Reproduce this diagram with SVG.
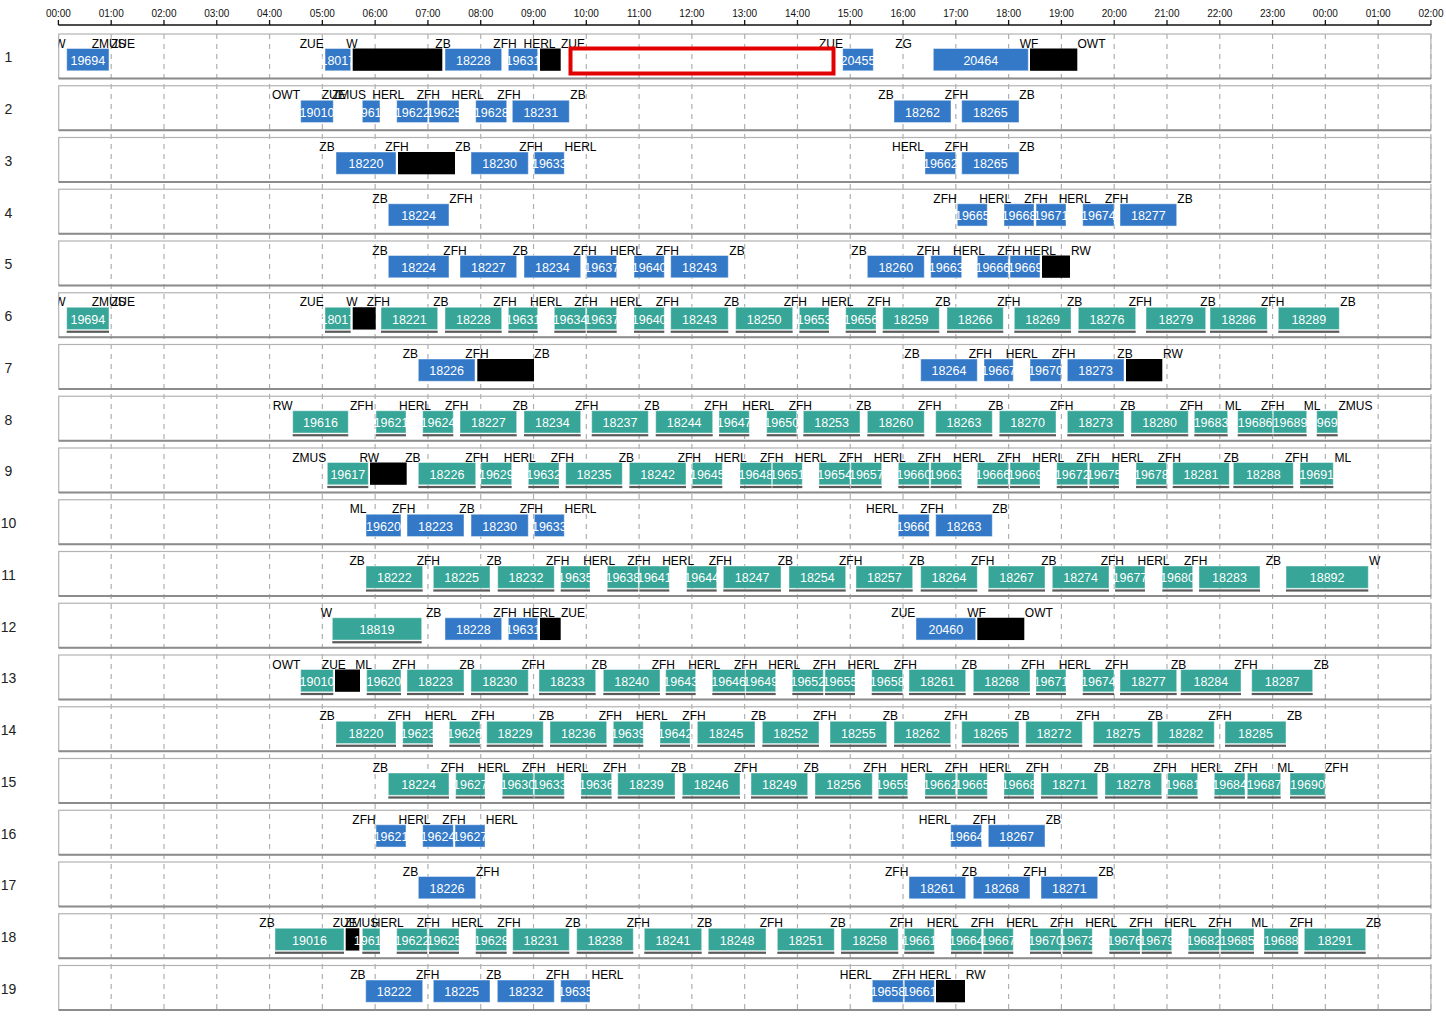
<svg xmlns="http://www.w3.org/2000/svg" width="1446" height="1016" viewBox="0 0 1446 1016">
<defs>
<style>
text{font-family:"Liberation Sans",Arial,sans-serif}
.ax{font-size:10px;fill:#111;text-anchor:middle}
.rn{font-size:14px;fill:#222;text-anchor:middle}
.l{font-size:12px;fill:#000;text-anchor:middle}
svg.b{overflow:visible}
svg.b text{font-size:12.5px;fill:#fff;text-anchor:middle}
.B{fill:#3479c7;stroke:#fff;stroke-opacity:.45;stroke-width:1}
.G{fill:#37a597;stroke:#fff;stroke-opacity:.45;stroke-width:1}
.K{fill:#000}
.u{fill:#5a5a5a}
.fr{fill:none;stroke:#b3b3b3;stroke-width:1.2}
.fb{stroke:#8c8c8c;stroke-width:2}
.gl{stroke:#b0b0b0;stroke-width:1.2;stroke-dasharray:5 5}
.tk{stroke:#111;stroke-width:1.3}
</style>
<clipPath id="cp"><rect x="58.7" y="-40" width="1373" height="130"/></clipPath>
</defs>
<rect width="1446" height="1016" fill="#fff"/>
<g id="grid">
<line class="gl" x1="111.19" y1="34" x2="111.19" y2="1010"/>
<line class="gl" x1="163.98" y1="34" x2="163.98" y2="1010"/>
<line class="gl" x1="216.77" y1="34" x2="216.77" y2="1010"/>
<line class="gl" x1="269.56" y1="34" x2="269.56" y2="1010"/>
<line class="gl" x1="322.35" y1="34" x2="322.35" y2="1010"/>
<line class="gl" x1="375.14" y1="34" x2="375.14" y2="1010"/>
<line class="gl" x1="427.93" y1="34" x2="427.93" y2="1010"/>
<line class="gl" x1="480.72" y1="34" x2="480.72" y2="1010"/>
<line class="gl" x1="533.51" y1="34" x2="533.51" y2="1010"/>
<line class="gl" x1="586.3" y1="34" x2="586.3" y2="1010"/>
<line class="gl" x1="639.09" y1="34" x2="639.09" y2="1010"/>
<line class="gl" x1="691.88" y1="34" x2="691.88" y2="1010"/>
<line class="gl" x1="744.67" y1="34" x2="744.67" y2="1010"/>
<line class="gl" x1="797.46" y1="34" x2="797.46" y2="1010"/>
<line class="gl" x1="850.25" y1="34" x2="850.25" y2="1010"/>
<line class="gl" x1="903.04" y1="34" x2="903.04" y2="1010"/>
<line class="gl" x1="955.83" y1="34" x2="955.83" y2="1010"/>
<line class="gl" x1="1008.62" y1="34" x2="1008.62" y2="1010"/>
<line class="gl" x1="1061.41" y1="34" x2="1061.41" y2="1010"/>
<line class="gl" x1="1114.2" y1="34" x2="1114.2" y2="1010"/>
<line class="gl" x1="1166.99" y1="34" x2="1166.99" y2="1010"/>
<line class="gl" x1="1219.78" y1="34" x2="1219.78" y2="1010"/>
<line class="gl" x1="1272.57" y1="34" x2="1272.57" y2="1010"/>
<line class="gl" x1="1325.36" y1="34" x2="1325.36" y2="1010"/>
<line class="gl" x1="1378.15" y1="34" x2="1378.15" y2="1010"/>
<line class="gl" x1="1430.94" y1="34" x2="1430.94" y2="1010"/>
</g>
<g id="axis">
<line class="tk" x1="58.4" y1="25" x2="1430.94" y2="25"/>
<path class="tk" fill="none" d="M58.4 20V25M111.19 20V25M163.98 20V25M216.77 20V25M269.56 20V25M322.35 20V25M375.14 20V25M427.93 20V25M480.72 20V25M533.51 20V25M586.3 20V25M639.09 20V25M691.88 20V25M744.67 20V25M797.46 20V25M850.25 20V25M903.04 20V25M955.83 20V25M1008.62 20V25M1061.41 20V25M1114.2 20V25M1166.99 20V25M1219.78 20V25M1272.57 20V25M1325.36 20V25M1378.15 20V25M1430.94 20V25"/>
<text class="ax" x="58.4" y="16.7">00:00</text>
<text class="ax" x="111.19" y="16.7">01:00</text>
<text class="ax" x="163.98" y="16.7">02:00</text>
<text class="ax" x="216.77" y="16.7">03:00</text>
<text class="ax" x="269.56" y="16.7">04:00</text>
<text class="ax" x="322.35" y="16.7">05:00</text>
<text class="ax" x="375.14" y="16.7">06:00</text>
<text class="ax" x="427.93" y="16.7">07:00</text>
<text class="ax" x="480.72" y="16.7">08:00</text>
<text class="ax" x="533.51" y="16.7">09:00</text>
<text class="ax" x="586.3" y="16.7">10:00</text>
<text class="ax" x="639.09" y="16.7">11:00</text>
<text class="ax" x="691.88" y="16.7">12:00</text>
<text class="ax" x="744.67" y="16.7">13:00</text>
<text class="ax" x="797.46" y="16.7">14:00</text>
<text class="ax" x="850.25" y="16.7">15:00</text>
<text class="ax" x="903.04" y="16.7">16:00</text>
<text class="ax" x="955.83" y="16.7">17:00</text>
<text class="ax" x="1008.62" y="16.7">18:00</text>
<text class="ax" x="1061.41" y="16.7">19:00</text>
<text class="ax" x="1114.2" y="16.7">20:00</text>
<text class="ax" x="1166.99" y="16.7">21:00</text>
<text class="ax" x="1219.78" y="16.7">22:00</text>
<text class="ax" x="1272.57" y="16.7">23:00</text>
<text class="ax" x="1325.36" y="16.7">00:00</text>
<text class="ax" x="1378.15" y="16.7">01:00</text>
<text class="ax" x="1430.94" y="16.7">02:00</text>
</g>
<g id="connectors"/>

<g id="row-1" transform="translate(0,34)">
<rect class="fr" x="58.7" y="0" width="1372.2" height="44.5"/><line class="fb" x1="58.7" y1="44.5" x2="1430.9" y2="44.5"/>
<text class="rn" x="8.5" y="28.3">1</text>
<g clip-path="url(#cp)">
<svg class="b" x="66.7" y="14.5" width="42.3" height="22.3"><rect class="B" width="100%" height="100%"/><text x="50%" y="16.3">19694</text></svg>
<svg class="b" x="325" y="14.5" width="25.7" height="22.3"><rect class="B" width="100%" height="100%"/><text x="50%" y="16.3">18017</text></svg>
<rect class="K" x="352.7" y="14.5" width="89.6" height="22.3"/>
<svg class="b" x="445" y="14.5" width="56.7" height="22.3"><rect class="B" width="100%" height="100%"/><text x="50%" y="16.3">18228</text></svg>
<svg class="b" x="508.3" y="14.5" width="29.4" height="22.3"><rect class="B" width="100%" height="100%"/><text x="50%" y="16.3">19631</text></svg>
<rect class="K" x="540" y="14.5" width="20.7" height="22.3"/>
<svg class="b" x="842.7" y="14.5" width="30.6" height="22.3"><rect class="B" width="100%" height="100%"/><text x="50%" y="16.3">20455</text></svg>
<svg class="b" x="933.3" y="14.5" width="95" height="22.3"><rect class="B" width="100%" height="100%"/><text x="50%" y="16.3">20464</text></svg>
<rect class="K" x="1030" y="14.5" width="47.3" height="22.3"/>
<text class="l" x="60" y="13.5">W</text><text class="l" x="108.7" y="13.5">ZMUS</text><text class="l" x="123" y="13.5">ZUE</text><text class="l" x="311.7" y="13.5">ZUE</text><text class="l" x="352" y="13.5">W</text><text class="l" x="443" y="13.5">ZB</text><text class="l" x="505" y="13.5">ZFH</text><text class="l" x="539.5" y="13.5">HERL</text><text class="l" x="573" y="13.5">ZUE</text><text class="l" x="831" y="13.5">ZUE</text><text class="l" x="903.5" y="13.5">ZG</text><text class="l" x="1029" y="13.5">WF</text><text class="l" x="1091.5" y="13.5">OWT</text>
</g>
</g>

<g id="row-2" transform="translate(0,85.75)">
<rect class="fr" x="58.7" y="0" width="1372.2" height="44.5"/><line class="fb" x1="58.7" y1="44.5" x2="1430.9" y2="44.5"/>
<text class="rn" x="8.5" y="28.3">2</text>
<g clip-path="url(#cp)">
<svg class="b" x="300.7" y="14.5" width="32.6" height="22.3"><rect class="B" width="100%" height="100%"/><text x="50%" y="16.3">19010</text></svg>
<svg class="b" x="362.3" y="14.5" width="17.7" height="22.3"><rect class="B" width="100%" height="100%"/><text x="50%" y="16.3">19619</text></svg>
<svg class="b" x="396.7" y="14.5" width="31" height="22.3"><rect class="B" width="100%" height="100%"/><text x="50%" y="16.3">19622</text></svg>
<svg class="b" x="429" y="14.5" width="30" height="22.3"><rect class="B" width="100%" height="100%"/><text x="50%" y="16.3">19625</text></svg>
<svg class="b" x="475.7" y="14.5" width="31" height="22.3"><rect class="B" width="100%" height="100%"/><text x="50%" y="16.3">19628</text></svg>
<svg class="b" x="512.3" y="14.5" width="57" height="22.3"><rect class="B" width="100%" height="100%"/><text x="50%" y="16.3">18231</text></svg>
<svg class="b" x="894" y="14.5" width="57" height="22.3"><rect class="B" width="100%" height="100%"/><text x="50%" y="16.3">18262</text></svg>
<svg class="b" x="961.7" y="14.5" width="57.3" height="22.3"><rect class="B" width="100%" height="100%"/><text x="50%" y="16.3">18265</text></svg>
<text class="l" x="286" y="13.5">OWT</text><text class="l" x="333.7" y="13.5">ZUE</text><text class="l" x="349" y="13.5">ZMUS</text><text class="l" x="388.3" y="13.5">HERL</text><text class="l" x="428.3" y="13.5">ZFH</text><text class="l" x="467.6" y="13.5">HERL</text><text class="l" x="509" y="13.5">ZFH</text><text class="l" x="578" y="13.5">ZB</text><text class="l" x="886" y="13.5">ZB</text><text class="l" x="956.5" y="13.5">ZFH</text><text class="l" x="1027" y="13.5">ZB</text>
</g>
</g>

<g id="row-3" transform="translate(0,137.5)">
<rect class="fr" x="58.7" y="0" width="1372.2" height="44.5"/><line class="fb" x1="58.7" y1="44.5" x2="1430.9" y2="44.5"/>
<text class="rn" x="8.5" y="28.3">3</text>
<g clip-path="url(#cp)">
<svg class="b" x="336" y="14.5" width="60" height="22.3"><rect class="B" width="100%" height="100%"/><text x="50%" y="16.3">18220</text></svg>
<rect class="K" x="398" y="14.5" width="57" height="22.3"/>
<svg class="b" x="471" y="14.5" width="57.3" height="22.3"><rect class="B" width="100%" height="100%"/><text x="50%" y="16.3">18230</text></svg>
<svg class="b" x="534.3" y="14.5" width="30" height="22.3"><rect class="B" width="100%" height="100%"/><text x="50%" y="16.3">19633</text></svg>
<svg class="b" x="925" y="14.5" width="30.7" height="22.3"><rect class="B" width="100%" height="100%"/><text x="50%" y="16.3">19662</text></svg>
<svg class="b" x="961.7" y="14.5" width="57.3" height="22.3"><rect class="B" width="100%" height="100%"/><text x="50%" y="16.3">18265</text></svg>
<text class="l" x="327" y="13.5">ZB</text><text class="l" x="397" y="13.5">ZFH</text><text class="l" x="463" y="13.5">ZB</text><text class="l" x="531" y="13.5">ZFH</text><text class="l" x="580.5" y="13.5">HERL</text><text class="l" x="908" y="13.5">HERL</text><text class="l" x="956.5" y="13.5">ZFH</text><text class="l" x="1027" y="13.5">ZB</text>
</g>
</g>

<g id="row-4" transform="translate(0,189.25)">
<rect class="fr" x="58.7" y="0" width="1372.2" height="44.5"/><line class="fb" x1="58.7" y1="44.5" x2="1430.9" y2="44.5"/>
<text class="rn" x="8.5" y="28.3">4</text>
<g clip-path="url(#cp)">
<svg class="b" x="388.3" y="14.5" width="60.7" height="22.3"><rect class="B" width="100%" height="100%"/><text x="50%" y="16.3">18224</text></svg>
<svg class="b" x="957.3" y="14.5" width="30" height="22.3"><rect class="B" width="100%" height="100%"/><text x="50%" y="16.3">19665</text></svg>
<svg class="b" x="1004" y="14.5" width="30" height="22.3"><rect class="B" width="100%" height="100%"/><text x="50%" y="16.3">19668</text></svg>
<svg class="b" x="1036" y="14.5" width="30" height="22.3"><rect class="B" width="100%" height="100%"/><text x="50%" y="16.3">19671</text></svg>
<svg class="b" x="1082.7" y="14.5" width="31.3" height="22.3"><rect class="B" width="100%" height="100%"/><text x="50%" y="16.3">19674</text></svg>
<svg class="b" x="1120" y="14.5" width="56.7" height="22.3"><rect class="B" width="100%" height="100%"/><text x="50%" y="16.3">18277</text></svg>
<text class="l" x="380" y="13.5">ZB</text><text class="l" x="461" y="13.5">ZFH</text><text class="l" x="945" y="13.5">ZFH</text><text class="l" x="995.2" y="13.5">HERL</text><text class="l" x="1036" y="13.5">ZFH</text><text class="l" x="1074.7" y="13.5">HERL</text><text class="l" x="1116.7" y="13.5">ZFH</text><text class="l" x="1185" y="13.5">ZB</text>
</g>
</g>

<g id="row-5" transform="translate(0,241)">
<rect class="fr" x="58.7" y="0" width="1372.2" height="44.5"/><line class="fb" x1="58.7" y1="44.5" x2="1430.9" y2="44.5"/>
<text class="rn" x="8.5" y="28.3">5</text>
<g clip-path="url(#cp)">
<svg class="b" x="388.3" y="14.5" width="60.7" height="22.3"><rect class="B" width="100%" height="100%"/><text x="50%" y="16.3">18224</text></svg>
<svg class="b" x="460" y="14.5" width="56.7" height="22.3"><rect class="B" width="100%" height="100%"/><text x="50%" y="16.3">18227</text></svg>
<svg class="b" x="524" y="14.5" width="56.7" height="22.3"><rect class="B" width="100%" height="100%"/><text x="50%" y="16.3">18234</text></svg>
<svg class="b" x="586.7" y="14.5" width="30" height="22.3"><rect class="B" width="100%" height="100%"/><text x="50%" y="16.3">19637</text></svg>
<svg class="b" x="634" y="14.5" width="30.3" height="22.3"><rect class="B" width="100%" height="100%"/><text x="50%" y="16.3">19640</text></svg>
<svg class="b" x="670.7" y="14.5" width="57.6" height="22.3"><rect class="B" width="100%" height="100%"/><text x="50%" y="16.3">18243</text></svg>
<svg class="b" x="867.3" y="14.5" width="57" height="22.3"><rect class="B" width="100%" height="100%"/><text x="50%" y="16.3">18260</text></svg>
<svg class="b" x="930.7" y="14.5" width="31" height="22.3"><rect class="B" width="100%" height="100%"/><text x="50%" y="16.3">19663</text></svg>
<svg class="b" x="977.3" y="14.5" width="31" height="22.3"><rect class="B" width="100%" height="100%"/><text x="50%" y="16.3">19666</text></svg>
<svg class="b" x="1010" y="14.5" width="30" height="22.3"><rect class="B" width="100%" height="100%"/><text x="50%" y="16.3">19669</text></svg>
<rect class="K" x="1042" y="14.5" width="28" height="22.3"/>
<text class="l" x="380" y="13.5">ZB</text><text class="l" x="455" y="13.5">ZFH</text><text class="l" x="520.3" y="13.5">ZB</text><text class="l" x="585" y="13.5">ZFH</text><text class="l" x="626" y="13.5">HERL</text><text class="l" x="667.3" y="13.5">ZFH</text><text class="l" x="737" y="13.5">ZB</text><text class="l" x="859" y="13.5">ZB</text><text class="l" x="928.5" y="13.5">ZFH</text><text class="l" x="969" y="13.5">HERL</text><text class="l" x="1009" y="13.5">ZFH</text><text class="l" x="1040" y="13.5">HERL</text><text class="l" x="1081" y="13.5">RW</text>
</g>
</g>

<g id="row-6" transform="translate(0,292.75)">
<rect class="fr" x="58.7" y="0" width="1372.2" height="44.5"/><line class="fb" x1="58.7" y1="44.5" x2="1430.9" y2="44.5"/>
<text class="rn" x="8.5" y="28.3">6</text>
<g clip-path="url(#cp)">
<svg class="b" x="66.7" y="14.5" width="42.3" height="22.3"><rect class="G" width="100%" height="100%"/><rect class="u" y="23.4" width="100%" height="2.2"/><text x="50%" y="16.3">19694</text></svg>
<svg class="b" x="325" y="14.5" width="25.7" height="22.3"><rect class="G" width="100%" height="100%"/><rect class="u" y="23.4" width="100%" height="2.2"/><text x="50%" y="16.3">18017</text></svg>
<rect class="K" x="352.7" y="14.5" width="23" height="22.3"/>
<svg class="b" x="381" y="14.5" width="56.7" height="22.3"><rect class="G" width="100%" height="100%"/><rect class="u" y="23.4" width="100%" height="2.2"/><text x="50%" y="16.3">18221</text></svg>
<svg class="b" x="445" y="14.5" width="56.7" height="22.3"><rect class="G" width="100%" height="100%"/><rect class="u" y="23.4" width="100%" height="2.2"/><text x="50%" y="16.3">18228</text></svg>
<svg class="b" x="508.3" y="14.5" width="29.4" height="22.3"><rect class="G" width="100%" height="100%"/><rect class="u" y="23.4" width="100%" height="2.2"/><text x="50%" y="16.3">19631</text></svg>
<svg class="b" x="554.3" y="14.5" width="31.4" height="22.3"><rect class="G" width="100%" height="100%"/><rect class="u" y="23.4" width="100%" height="2.2"/><text x="50%" y="16.3">19634</text></svg>
<svg class="b" x="586.7" y="14.5" width="30" height="22.3"><rect class="G" width="100%" height="100%"/><rect class="u" y="23.4" width="100%" height="2.2"/><text x="50%" y="16.3">19637</text></svg>
<svg class="b" x="634" y="14.5" width="30.3" height="22.3"><rect class="G" width="100%" height="100%"/><rect class="u" y="23.4" width="100%" height="2.2"/><text x="50%" y="16.3">19640</text></svg>
<svg class="b" x="670.7" y="14.5" width="57.6" height="22.3"><rect class="G" width="100%" height="100%"/><rect class="u" y="23.4" width="100%" height="2.2"/><text x="50%" y="16.3">18243</text></svg>
<svg class="b" x="735.7" y="14.5" width="57" height="22.3"><rect class="G" width="100%" height="100%"/><rect class="u" y="23.4" width="100%" height="2.2"/><text x="50%" y="16.3">18250</text></svg>
<svg class="b" x="799.3" y="14.5" width="29.7" height="22.3"><rect class="G" width="100%" height="100%"/><rect class="u" y="23.4" width="100%" height="2.2"/><text x="50%" y="16.3">19653</text></svg>
<svg class="b" x="845.7" y="14.5" width="30.3" height="22.3"><rect class="G" width="100%" height="100%"/><rect class="u" y="23.4" width="100%" height="2.2"/><text x="50%" y="16.3">19656</text></svg>
<svg class="b" x="882.7" y="14.5" width="56.6" height="22.3"><rect class="G" width="100%" height="100%"/><rect class="u" y="23.4" width="100%" height="2.2"/><text x="50%" y="16.3">18259</text></svg>
<svg class="b" x="947" y="14.5" width="56.3" height="22.3"><rect class="G" width="100%" height="100%"/><rect class="u" y="23.4" width="100%" height="2.2"/><text x="50%" y="16.3">18266</text></svg>
<svg class="b" x="1014.3" y="14.5" width="56.7" height="22.3"><rect class="G" width="100%" height="100%"/><rect class="u" y="23.4" width="100%" height="2.2"/><text x="50%" y="16.3">18269</text></svg>
<svg class="b" x="1078.3" y="14.5" width="57.4" height="22.3"><rect class="G" width="100%" height="100%"/><rect class="u" y="23.4" width="100%" height="2.2"/><text x="50%" y="16.3">18276</text></svg>
<svg class="b" x="1146" y="14.5" width="59.7" height="22.3"><rect class="G" width="100%" height="100%"/><rect class="u" y="23.4" width="100%" height="2.2"/><text x="50%" y="16.3">18279</text></svg>
<svg class="b" x="1210" y="14.5" width="57.3" height="22.3"><rect class="G" width="100%" height="100%"/><rect class="u" y="23.4" width="100%" height="2.2"/><text x="50%" y="16.3">18286</text></svg>
<svg class="b" x="1278.3" y="14.5" width="61" height="22.3"><rect class="G" width="100%" height="100%"/><rect class="u" y="23.4" width="100%" height="2.2"/><text x="50%" y="16.3">18289</text></svg>
<text class="l" x="60" y="13.5">W</text><text class="l" x="108.7" y="13.5">ZMUS</text><text class="l" x="123" y="13.5">ZUE</text><text class="l" x="311.7" y="13.5">ZUE</text><text class="l" x="352" y="13.5">W</text><text class="l" x="378.3" y="13.5">ZFH</text><text class="l" x="440.8" y="13.5">ZB</text><text class="l" x="505" y="13.5">ZFH</text><text class="l" x="546" y="13.5">HERL</text><text class="l" x="586" y="13.5">ZFH</text><text class="l" x="626" y="13.5">HERL</text><text class="l" x="667.3" y="13.5">ZFH</text><text class="l" x="731.7" y="13.5">ZB</text><text class="l" x="795.3" y="13.5">ZFH</text><text class="l" x="837.5" y="13.5">HERL</text><text class="l" x="879" y="13.5">ZFH</text><text class="l" x="943" y="13.5">ZB</text><text class="l" x="1008.8" y="13.5">ZFH</text><text class="l" x="1074.7" y="13.5">ZB</text><text class="l" x="1140.3" y="13.5">ZFH</text><text class="l" x="1208" y="13.5">ZB</text><text class="l" x="1272.7" y="13.5">ZFH</text><text class="l" x="1348" y="13.5">ZB</text>
</g>
</g>

<g id="row-7" transform="translate(0,344.5)">
<rect class="fr" x="58.7" y="0" width="1372.2" height="44.5"/><line class="fb" x1="58.7" y1="44.5" x2="1430.9" y2="44.5"/>
<text class="rn" x="8.5" y="28.3">7</text>
<g clip-path="url(#cp)">
<svg class="b" x="418.3" y="14.5" width="56.7" height="22.3"><rect class="B" width="100%" height="100%"/><text x="50%" y="16.3">18226</text></svg>
<rect class="K" x="477.3" y="14.5" width="56.7" height="22.3"/>
<svg class="b" x="920.7" y="14.5" width="56.6" height="22.3"><rect class="B" width="100%" height="100%"/><text x="50%" y="16.3">18264</text></svg>
<svg class="b" x="984" y="14.5" width="29.3" height="22.3"><rect class="B" width="100%" height="100%"/><text x="50%" y="16.3">19667</text></svg>
<svg class="b" x="1030" y="14.5" width="31" height="22.3"><rect class="B" width="100%" height="100%"/><text x="50%" y="16.3">19670</text></svg>
<svg class="b" x="1067.3" y="14.5" width="56.7" height="22.3"><rect class="B" width="100%" height="100%"/><text x="50%" y="16.3">18273</text></svg>
<rect class="K" x="1126" y="14.5" width="36.3" height="22.3"/>
<text class="l" x="410.3" y="13.5">ZB</text><text class="l" x="477" y="13.5">ZFH</text><text class="l" x="542" y="13.5">ZB</text><text class="l" x="912" y="13.5">ZB</text><text class="l" x="980.3" y="13.5">ZFH</text><text class="l" x="1021.8" y="13.5">HERL</text><text class="l" x="1063.7" y="13.5">ZFH</text><text class="l" x="1125" y="13.5">ZB</text><text class="l" x="1173" y="13.5">RW</text>
</g>
</g>

<g id="row-8" transform="translate(0,396.25)">
<rect class="fr" x="58.7" y="0" width="1372.2" height="44.5"/><line class="fb" x1="58.7" y1="44.5" x2="1430.9" y2="44.5"/>
<text class="rn" x="8.5" y="28.3">8</text>
<g clip-path="url(#cp)">
<svg class="b" x="292.7" y="14.5" width="55.6" height="22.3"><rect class="G" width="100%" height="100%"/><rect class="u" y="23.4" width="100%" height="2.2"/><text x="50%" y="16.3">19616</text></svg>
<svg class="b" x="376" y="14.5" width="30" height="22.3"><rect class="G" width="100%" height="100%"/><rect class="u" y="23.4" width="100%" height="2.2"/><text x="50%" y="16.3">19621</text></svg>
<svg class="b" x="422.7" y="14.5" width="30.6" height="22.3"><rect class="G" width="100%" height="100%"/><rect class="u" y="23.4" width="100%" height="2.2"/><text x="50%" y="16.3">19624</text></svg>
<svg class="b" x="460" y="14.5" width="56.7" height="22.3"><rect class="G" width="100%" height="100%"/><rect class="u" y="23.4" width="100%" height="2.2"/><text x="50%" y="16.3">18227</text></svg>
<svg class="b" x="524" y="14.5" width="56.7" height="22.3"><rect class="G" width="100%" height="100%"/><rect class="u" y="23.4" width="100%" height="2.2"/><text x="50%" y="16.3">18234</text></svg>
<svg class="b" x="591.7" y="14.5" width="56.6" height="22.3"><rect class="G" width="100%" height="100%"/><rect class="u" y="23.4" width="100%" height="2.2"/><text x="50%" y="16.3">18237</text></svg>
<svg class="b" x="655.7" y="14.5" width="57" height="22.3"><rect class="G" width="100%" height="100%"/><rect class="u" y="23.4" width="100%" height="2.2"/><text x="50%" y="16.3">18244</text></svg>
<svg class="b" x="719" y="14.5" width="30.3" height="22.3"><rect class="G" width="100%" height="100%"/><rect class="u" y="23.4" width="100%" height="2.2"/><text x="50%" y="16.3">19647</text></svg>
<svg class="b" x="766.7" y="14.5" width="30" height="22.3"><rect class="G" width="100%" height="100%"/><rect class="u" y="23.4" width="100%" height="2.2"/><text x="50%" y="16.3">19650</text></svg>
<svg class="b" x="803.3" y="14.5" width="56.7" height="22.3"><rect class="G" width="100%" height="100%"/><rect class="u" y="23.4" width="100%" height="2.2"/><text x="50%" y="16.3">18253</text></svg>
<svg class="b" x="867.3" y="14.5" width="57" height="22.3"><rect class="G" width="100%" height="100%"/><rect class="u" y="23.4" width="100%" height="2.2"/><text x="50%" y="16.3">18260</text></svg>
<svg class="b" x="935.7" y="14.5" width="56.6" height="22.3"><rect class="G" width="100%" height="100%"/><rect class="u" y="23.4" width="100%" height="2.2"/><text x="50%" y="16.3">18263</text></svg>
<svg class="b" x="999.3" y="14.5" width="56.7" height="22.3"><rect class="G" width="100%" height="100%"/><rect class="u" y="23.4" width="100%" height="2.2"/><text x="50%" y="16.3">18270</text></svg>
<svg class="b" x="1067.3" y="14.5" width="56.7" height="22.3"><rect class="G" width="100%" height="100%"/><rect class="u" y="23.4" width="100%" height="2.2"/><text x="50%" y="16.3">18273</text></svg>
<svg class="b" x="1131" y="14.5" width="57.3" height="22.3"><rect class="G" width="100%" height="100%"/><rect class="u" y="23.4" width="100%" height="2.2"/><text x="50%" y="16.3">18280</text></svg>
<svg class="b" x="1194.3" y="14.5" width="33.4" height="22.3"><rect class="G" width="100%" height="100%"/><rect class="u" y="23.4" width="100%" height="2.2"/><text x="50%" y="16.3">19683</text></svg>
<svg class="b" x="1237.7" y="14.5" width="35" height="22.3"><rect class="G" width="100%" height="100%"/><rect class="u" y="23.4" width="100%" height="2.2"/><text x="50%" y="16.3">19686</text></svg>
<svg class="b" x="1273.3" y="14.5" width="33.4" height="22.3"><rect class="G" width="100%" height="100%"/><rect class="u" y="23.4" width="100%" height="2.2"/><text x="50%" y="16.3">19689</text></svg>
<svg class="b" x="1316.7" y="14.5" width="21" height="22.3"><rect class="G" width="100%" height="100%"/><rect class="u" y="23.4" width="100%" height="2.2"/><text x="50%" y="16.3">19692</text></svg>
<text class="l" x="282.7" y="13.5">RW</text><text class="l" x="361.7" y="13.5">ZFH</text><text class="l" x="415" y="13.5">HERL</text><text class="l" x="456.7" y="13.5">ZFH</text><text class="l" x="520.3" y="13.5">ZB</text><text class="l" x="586.7" y="13.5">ZFH</text><text class="l" x="652" y="13.5">ZB</text><text class="l" x="716" y="13.5">ZFH</text><text class="l" x="758.3" y="13.5">HERL</text><text class="l" x="800.3" y="13.5">ZFH</text><text class="l" x="863.8" y="13.5">ZB</text><text class="l" x="929.7" y="13.5">ZFH</text><text class="l" x="995.8" y="13.5">ZB</text><text class="l" x="1061.7" y="13.5">ZFH</text><text class="l" x="1127.8" y="13.5">ZB</text><text class="l" x="1191.3" y="13.5">ZFH</text><text class="l" x="1233" y="13.5">ML</text><text class="l" x="1272.7" y="13.5">ZFH</text><text class="l" x="1312" y="13.5">ML</text><text class="l" x="1355.5" y="13.5">ZMUS</text>
</g>
</g>

<g id="row-9" transform="translate(0,448)">
<rect class="fr" x="58.7" y="0" width="1372.2" height="44.5"/><line class="fb" x1="58.7" y1="44.5" x2="1430.9" y2="44.5"/>
<text class="rn" x="8.5" y="28.3">9</text>
<g clip-path="url(#cp)">
<svg class="b" x="327.3" y="14.5" width="41" height="22.3"><rect class="G" width="100%" height="100%"/><rect class="u" y="23.4" width="100%" height="2.2"/><text x="50%" y="16.3">19617</text></svg>
<rect class="K" x="370" y="14.5" width="36.7" height="22.3"/>
<svg class="b" x="418.3" y="14.5" width="57.4" height="22.3"><rect class="G" width="100%" height="100%"/><rect class="u" y="23.4" width="100%" height="2.2"/><text x="50%" y="16.3">18226</text></svg>
<svg class="b" x="481" y="14.5" width="30.7" height="22.3"><rect class="G" width="100%" height="100%"/><rect class="u" y="23.4" width="100%" height="2.2"/><text x="50%" y="16.3">19629</text></svg>
<svg class="b" x="528.3" y="14.5" width="30.7" height="22.3"><rect class="G" width="100%" height="100%"/><rect class="u" y="23.4" width="100%" height="2.2"/><text x="50%" y="16.3">19632</text></svg>
<svg class="b" x="565.7" y="14.5" width="56.6" height="22.3"><rect class="G" width="100%" height="100%"/><rect class="u" y="23.4" width="100%" height="2.2"/><text x="50%" y="16.3">18235</text></svg>
<svg class="b" x="629.3" y="14.5" width="56.7" height="22.3"><rect class="G" width="100%" height="100%"/><rect class="u" y="23.4" width="100%" height="2.2"/><text x="50%" y="16.3">18242</text></svg>
<svg class="b" x="692.3" y="14.5" width="30" height="22.3"><rect class="G" width="100%" height="100%"/><rect class="u" y="23.4" width="100%" height="2.2"/><text x="50%" y="16.3">19645</text></svg>
<svg class="b" x="740" y="14.5" width="31.7" height="22.3"><rect class="G" width="100%" height="100%"/><rect class="u" y="23.4" width="100%" height="2.2"/><text x="50%" y="16.3">19648</text></svg>
<svg class="b" x="772.3" y="14.5" width="30" height="22.3"><rect class="G" width="100%" height="100%"/><rect class="u" y="23.4" width="100%" height="2.2"/><text x="50%" y="16.3">19651</text></svg>
<svg class="b" x="819" y="14.5" width="31" height="22.3"><rect class="G" width="100%" height="100%"/><rect class="u" y="23.4" width="100%" height="2.2"/><text x="50%" y="16.3">19654</text></svg>
<svg class="b" x="851" y="14.5" width="30.7" height="22.3"><rect class="G" width="100%" height="100%"/><rect class="u" y="23.4" width="100%" height="2.2"/><text x="50%" y="16.3">19657</text></svg>
<svg class="b" x="898.3" y="14.5" width="31" height="22.3"><rect class="G" width="100%" height="100%"/><rect class="u" y="23.4" width="100%" height="2.2"/><text x="50%" y="16.3">19660</text></svg>
<svg class="b" x="930.7" y="14.5" width="31" height="22.3"><rect class="G" width="100%" height="100%"/><rect class="u" y="23.4" width="100%" height="2.2"/><text x="50%" y="16.3">19663</text></svg>
<svg class="b" x="977.3" y="14.5" width="31" height="22.3"><rect class="G" width="100%" height="100%"/><rect class="u" y="23.4" width="100%" height="2.2"/><text x="50%" y="16.3">19666</text></svg>
<svg class="b" x="1010" y="14.5" width="30" height="22.3"><rect class="G" width="100%" height="100%"/><rect class="u" y="23.4" width="100%" height="2.2"/><text x="50%" y="16.3">19669</text></svg>
<svg class="b" x="1056.7" y="14.5" width="31" height="22.3"><rect class="G" width="100%" height="100%"/><rect class="u" y="23.4" width="100%" height="2.2"/><text x="50%" y="16.3">19672</text></svg>
<svg class="b" x="1089.3" y="14.5" width="29.7" height="22.3"><rect class="G" width="100%" height="100%"/><rect class="u" y="23.4" width="100%" height="2.2"/><text x="50%" y="16.3">19675</text></svg>
<svg class="b" x="1136" y="14.5" width="30.7" height="22.3"><rect class="G" width="100%" height="100%"/><rect class="u" y="23.4" width="100%" height="2.2"/><text x="50%" y="16.3">19678</text></svg>
<svg class="b" x="1172.7" y="14.5" width="56.6" height="22.3"><rect class="G" width="100%" height="100%"/><rect class="u" y="23.4" width="100%" height="2.2"/><text x="50%" y="16.3">18281</text></svg>
<svg class="b" x="1233.3" y="14.5" width="60" height="22.3"><rect class="G" width="100%" height="100%"/><rect class="u" y="23.4" width="100%" height="2.2"/><text x="50%" y="16.3">18288</text></svg>
<svg class="b" x="1300" y="14.5" width="33.3" height="22.3"><rect class="G" width="100%" height="100%"/><rect class="u" y="23.4" width="100%" height="2.2"/><text x="50%" y="16.3">19691</text></svg>
<text class="l" x="309.2" y="13.5">ZMUS</text><text class="l" x="369.3" y="13.5">RW</text><text class="l" x="412.8" y="13.5">ZB</text><text class="l" x="477" y="13.5">ZFH</text><text class="l" x="519.8" y="13.5">HERL</text><text class="l" x="562.3" y="13.5">ZFH</text><text class="l" x="626.3" y="13.5">ZB</text><text class="l" x="689.3" y="13.5">ZFH</text><text class="l" x="730.8" y="13.5">HERL</text><text class="l" x="771.7" y="13.5">ZFH</text><text class="l" x="810.8" y="13.5">HERL</text><text class="l" x="850.7" y="13.5">ZFH</text><text class="l" x="889.8" y="13.5">HERL</text><text class="l" x="929.3" y="13.5">ZFH</text><text class="l" x="969" y="13.5">HERL</text><text class="l" x="1009" y="13.5">ZFH</text><text class="l" x="1048.3" y="13.5">HERL</text><text class="l" x="1088" y="13.5">ZFH</text><text class="l" x="1127.5" y="13.5">HERL</text><text class="l" x="1169.3" y="13.5">ZFH</text><text class="l" x="1231.3" y="13.5">ZB</text><text class="l" x="1296.7" y="13.5">ZFH</text><text class="l" x="1342.8" y="13.5">ML</text>
</g>
</g>

<g id="row-10" transform="translate(0,499.75)">
<rect class="fr" x="58.7" y="0" width="1372.2" height="44.5"/><line class="fb" x1="58.7" y1="44.5" x2="1430.9" y2="44.5"/>
<text class="rn" x="8.5" y="28.3">10</text>
<g clip-path="url(#cp)">
<svg class="b" x="366" y="14.5" width="35" height="22.3"><rect class="B" width="100%" height="100%"/><text x="50%" y="16.3">19620</text></svg>
<svg class="b" x="407" y="14.5" width="57" height="22.3"><rect class="B" width="100%" height="100%"/><text x="50%" y="16.3">18223</text></svg>
<svg class="b" x="471" y="14.5" width="57.3" height="22.3"><rect class="B" width="100%" height="100%"/><text x="50%" y="16.3">18230</text></svg>
<svg class="b" x="534.3" y="14.5" width="30" height="22.3"><rect class="B" width="100%" height="100%"/><text x="50%" y="16.3">19633</text></svg>
<svg class="b" x="898.3" y="14.5" width="31" height="22.3"><rect class="B" width="100%" height="100%"/><text x="50%" y="16.3">19660</text></svg>
<svg class="b" x="935.7" y="14.5" width="56.6" height="22.3"><rect class="B" width="100%" height="100%"/><text x="50%" y="16.3">18263</text></svg>
<text class="l" x="358" y="13.5">ML</text><text class="l" x="403.7" y="13.5">ZFH</text><text class="l" x="467" y="13.5">ZB</text><text class="l" x="531.3" y="13.5">ZFH</text><text class="l" x="580.5" y="13.5">HERL</text><text class="l" x="882" y="13.5">HERL</text><text class="l" x="932" y="13.5">ZFH</text><text class="l" x="1000" y="13.5">ZB</text>
</g>
</g>

<g id="row-11" transform="translate(0,551.5)">
<rect class="fr" x="58.7" y="0" width="1372.2" height="44.5"/><line class="fb" x1="58.7" y1="44.5" x2="1430.9" y2="44.5"/>
<text class="rn" x="8.5" y="28.3">11</text>
<g clip-path="url(#cp)">
<svg class="b" x="366" y="14.5" width="56.7" height="22.3"><rect class="G" width="100%" height="100%"/><rect class="u" y="23.4" width="100%" height="2.2"/><text x="50%" y="16.3">18222</text></svg>
<svg class="b" x="433.3" y="14.5" width="56.7" height="22.3"><rect class="G" width="100%" height="100%"/><rect class="u" y="23.4" width="100%" height="2.2"/><text x="50%" y="16.3">18225</text></svg>
<svg class="b" x="497.7" y="14.5" width="56.6" height="22.3"><rect class="G" width="100%" height="100%"/><rect class="u" y="23.4" width="100%" height="2.2"/><text x="50%" y="16.3">18232</text></svg>
<svg class="b" x="560.7" y="14.5" width="29.3" height="22.3"><rect class="G" width="100%" height="100%"/><rect class="u" y="23.4" width="100%" height="2.2"/><text x="50%" y="16.3">19635</text></svg>
<svg class="b" x="607.3" y="14.5" width="31" height="22.3"><rect class="G" width="100%" height="100%"/><rect class="u" y="23.4" width="100%" height="2.2"/><text x="50%" y="16.3">19638</text></svg>
<svg class="b" x="639.3" y="14.5" width="30" height="22.3"><rect class="G" width="100%" height="100%"/><rect class="u" y="23.4" width="100%" height="2.2"/><text x="50%" y="16.3">19641</text></svg>
<svg class="b" x="686.7" y="14.5" width="30" height="22.3"><rect class="G" width="100%" height="100%"/><rect class="u" y="23.4" width="100%" height="2.2"/><text x="50%" y="16.3">19644</text></svg>
<svg class="b" x="723.3" y="14.5" width="57.7" height="22.3"><rect class="G" width="100%" height="100%"/><rect class="u" y="23.4" width="100%" height="2.2"/><text x="50%" y="16.3">18247</text></svg>
<svg class="b" x="789" y="14.5" width="56.7" height="22.3"><rect class="G" width="100%" height="100%"/><rect class="u" y="23.4" width="100%" height="2.2"/><text x="50%" y="16.3">18254</text></svg>
<svg class="b" x="856" y="14.5" width="56.7" height="22.3"><rect class="G" width="100%" height="100%"/><rect class="u" y="23.4" width="100%" height="2.2"/><text x="50%" y="16.3">18257</text></svg>
<svg class="b" x="920.7" y="14.5" width="56.6" height="22.3"><rect class="G" width="100%" height="100%"/><rect class="u" y="23.4" width="100%" height="2.2"/><text x="50%" y="16.3">18264</text></svg>
<svg class="b" x="988.3" y="14.5" width="56.7" height="22.3"><rect class="G" width="100%" height="100%"/><rect class="u" y="23.4" width="100%" height="2.2"/><text x="50%" y="16.3">18267</text></svg>
<svg class="b" x="1052.3" y="14.5" width="56.7" height="22.3"><rect class="G" width="100%" height="100%"/><rect class="u" y="23.4" width="100%" height="2.2"/><text x="50%" y="16.3">18274</text></svg>
<svg class="b" x="1115" y="14.5" width="30" height="22.3"><rect class="G" width="100%" height="100%"/><rect class="u" y="23.4" width="100%" height="2.2"/><text x="50%" y="16.3">19677</text></svg>
<svg class="b" x="1162.3" y="14.5" width="30.4" height="22.3"><rect class="G" width="100%" height="100%"/><rect class="u" y="23.4" width="100%" height="2.2"/><text x="50%" y="16.3">19680</text></svg>
<svg class="b" x="1199" y="14.5" width="61" height="22.3"><rect class="G" width="100%" height="100%"/><rect class="u" y="23.4" width="100%" height="2.2"/><text x="50%" y="16.3">18283</text></svg>
<svg class="b" x="1286" y="14.5" width="82.3" height="22.3"><rect class="G" width="100%" height="100%"/><rect class="u" y="23.4" width="100%" height="2.2"/><text x="50%" y="16.3">18892</text></svg>
<text class="l" x="357.2" y="13.5">ZB</text><text class="l" x="428.3" y="13.5">ZFH</text><text class="l" x="494.2" y="13.5">ZB</text><text class="l" x="557.7" y="13.5">ZFH</text><text class="l" x="599.2" y="13.5">HERL</text><text class="l" x="639" y="13.5">ZFH</text><text class="l" x="678.2" y="13.5">HERL</text><text class="l" x="720.3" y="13.5">ZFH</text><text class="l" x="785.3" y="13.5">ZB</text><text class="l" x="850.7" y="13.5">ZFH</text><text class="l" x="917" y="13.5">ZB</text><text class="l" x="982.7" y="13.5">ZFH</text><text class="l" x="1048.8" y="13.5">ZB</text><text class="l" x="1112.3" y="13.5">ZFH</text><text class="l" x="1153.5" y="13.5">HERL</text><text class="l" x="1195.7" y="13.5">ZFH</text><text class="l" x="1273.3" y="13.5">ZB</text><text class="l" x="1374.7" y="13.5">W</text>
</g>
</g>

<g id="row-12" transform="translate(0,603.25)">
<rect class="fr" x="58.7" y="0" width="1372.2" height="44.5"/><line class="fb" x1="58.7" y1="44.5" x2="1430.9" y2="44.5"/>
<text class="rn" x="8.5" y="28.3">12</text>
<g clip-path="url(#cp)">
<svg class="b" x="332.3" y="14.5" width="89.4" height="22.3"><rect class="G" width="100%" height="100%"/><rect class="u" y="23.4" width="100%" height="2.2"/><text x="50%" y="16.3">18819</text></svg>
<svg class="b" x="445" y="14.5" width="56.7" height="22.3"><rect class="B" width="100%" height="100%"/><text x="50%" y="16.3">18228</text></svg>
<svg class="b" x="508.3" y="14.5" width="29.4" height="22.3"><rect class="B" width="100%" height="100%"/><text x="50%" y="16.3">19631</text></svg>
<rect class="K" x="540" y="14.5" width="20.7" height="22.3"/>
<svg class="b" x="916" y="14.5" width="59.7" height="22.3"><rect class="B" width="100%" height="100%"/><text x="50%" y="16.3">20460</text></svg>
<rect class="K" x="977.3" y="14.5" width="47" height="22.3"/>
<text class="l" x="326.5" y="13.5">W</text><text class="l" x="433.7" y="13.5">ZB</text><text class="l" x="505" y="13.5">ZFH</text><text class="l" x="538.8" y="13.5">HERL</text><text class="l" x="573" y="13.5">ZUE</text><text class="l" x="903.3" y="13.5">ZUE</text><text class="l" x="976.5" y="13.5">WF</text><text class="l" x="1038.8" y="13.5">OWT</text>
</g>
</g>

<g id="row-13" transform="translate(0,655)">
<rect class="fr" x="58.7" y="0" width="1372.2" height="44.5"/><line class="fb" x1="58.7" y1="44.5" x2="1430.9" y2="44.5"/>
<text class="rn" x="8.5" y="28.3">13</text>
<g clip-path="url(#cp)">
<svg class="b" x="300.7" y="14.5" width="32.6" height="22.3"><rect class="G" width="100%" height="100%"/><rect class="u" y="23.4" width="100%" height="2.2"/><text x="50%" y="16.3">19010</text></svg>
<rect class="K" x="335" y="14.5" width="25" height="22.3"/>
<svg class="b" x="366.7" y="14.5" width="34.3" height="22.3"><rect class="G" width="100%" height="100%"/><rect class="u" y="23.4" width="100%" height="2.2"/><text x="50%" y="16.3">19620</text></svg>
<svg class="b" x="407" y="14.5" width="57" height="22.3"><rect class="G" width="100%" height="100%"/><rect class="u" y="23.4" width="100%" height="2.2"/><text x="50%" y="16.3">18223</text></svg>
<svg class="b" x="471" y="14.5" width="57.3" height="22.3"><rect class="G" width="100%" height="100%"/><rect class="u" y="23.4" width="100%" height="2.2"/><text x="50%" y="16.3">18230</text></svg>
<svg class="b" x="539" y="14.5" width="56.7" height="22.3"><rect class="G" width="100%" height="100%"/><rect class="u" y="23.4" width="100%" height="2.2"/><text x="50%" y="16.3">18233</text></svg>
<svg class="b" x="603.3" y="14.5" width="56.7" height="22.3"><rect class="G" width="100%" height="100%"/><rect class="u" y="23.4" width="100%" height="2.2"/><text x="50%" y="16.3">18240</text></svg>
<svg class="b" x="665.7" y="14.5" width="30" height="22.3"><rect class="G" width="100%" height="100%"/><rect class="u" y="23.4" width="100%" height="2.2"/><text x="50%" y="16.3">19643</text></svg>
<svg class="b" x="712.3" y="14.5" width="32.7" height="22.3"><rect class="G" width="100%" height="100%"/><rect class="u" y="23.4" width="100%" height="2.2"/><text x="50%" y="16.3">19646</text></svg>
<svg class="b" x="745.7" y="14.5" width="30" height="22.3"><rect class="G" width="100%" height="100%"/><rect class="u" y="23.4" width="100%" height="2.2"/><text x="50%" y="16.3">19649</text></svg>
<svg class="b" x="792.3" y="14.5" width="31" height="22.3"><rect class="G" width="100%" height="100%"/><rect class="u" y="23.4" width="100%" height="2.2"/><text x="50%" y="16.3">19652</text></svg>
<svg class="b" x="825" y="14.5" width="30" height="22.3"><rect class="G" width="100%" height="100%"/><rect class="u" y="23.4" width="100%" height="2.2"/><text x="50%" y="16.3">19655</text></svg>
<svg class="b" x="871.7" y="14.5" width="31" height="22.3"><rect class="G" width="100%" height="100%"/><rect class="u" y="23.4" width="100%" height="2.2"/><text x="50%" y="16.3">19658</text></svg>
<svg class="b" x="909" y="14.5" width="56.7" height="22.3"><rect class="G" width="100%" height="100%"/><rect class="u" y="23.4" width="100%" height="2.2"/><text x="50%" y="16.3">18261</text></svg>
<svg class="b" x="973.3" y="14.5" width="56.7" height="22.3"><rect class="G" width="100%" height="100%"/><rect class="u" y="23.4" width="100%" height="2.2"/><text x="50%" y="16.3">18268</text></svg>
<svg class="b" x="1036" y="14.5" width="30" height="22.3"><rect class="G" width="100%" height="100%"/><rect class="u" y="23.4" width="100%" height="2.2"/><text x="50%" y="16.3">19671</text></svg>
<svg class="b" x="1082.7" y="14.5" width="31.3" height="22.3"><rect class="G" width="100%" height="100%"/><rect class="u" y="23.4" width="100%" height="2.2"/><text x="50%" y="16.3">19674</text></svg>
<svg class="b" x="1120" y="14.5" width="56.7" height="22.3"><rect class="G" width="100%" height="100%"/><rect class="u" y="23.4" width="100%" height="2.2"/><text x="50%" y="16.3">18277</text></svg>
<svg class="b" x="1180.7" y="14.5" width="60.3" height="22.3"><rect class="G" width="100%" height="100%"/><rect class="u" y="23.4" width="100%" height="2.2"/><text x="50%" y="16.3">18284</text></svg>
<svg class="b" x="1251.7" y="14.5" width="61" height="22.3"><rect class="G" width="100%" height="100%"/><rect class="u" y="23.4" width="100%" height="2.2"/><text x="50%" y="16.3">18287</text></svg>
<text class="l" x="286.3" y="13.5">OWT</text><text class="l" x="333.8" y="13.5">ZUE</text><text class="l" x="363.7" y="13.5">ML</text><text class="l" x="404" y="13.5">ZFH</text><text class="l" x="467.2" y="13.5">ZB</text><text class="l" x="533.3" y="13.5">ZFH</text><text class="l" x="599.5" y="13.5">ZB</text><text class="l" x="663.3" y="13.5">ZFH</text><text class="l" x="704.2" y="13.5">HERL</text><text class="l" x="745.7" y="13.5">ZFH</text><text class="l" x="784.2" y="13.5">HERL</text><text class="l" x="824.3" y="13.5">ZFH</text><text class="l" x="863.5" y="13.5">HERL</text><text class="l" x="905.3" y="13.5">ZFH</text><text class="l" x="969.5" y="13.5">ZB</text><text class="l" x="1033" y="13.5">ZFH</text><text class="l" x="1074.7" y="13.5">HERL</text><text class="l" x="1116.7" y="13.5">ZFH</text><text class="l" x="1178.7" y="13.5">ZB</text><text class="l" x="1246" y="13.5">ZFH</text><text class="l" x="1321.3" y="13.5">ZB</text>
</g>
</g>

<g id="row-14" transform="translate(0,706.75)">
<rect class="fr" x="58.7" y="0" width="1372.2" height="44.5"/><line class="fb" x1="58.7" y1="44.5" x2="1430.9" y2="44.5"/>
<text class="rn" x="8.5" y="28.3">14</text>
<g clip-path="url(#cp)">
<svg class="b" x="336" y="14.5" width="60" height="22.3"><rect class="G" width="100%" height="100%"/><rect class="u" y="23.4" width="100%" height="2.2"/><text x="50%" y="16.3">18220</text></svg>
<svg class="b" x="402.7" y="14.5" width="30.3" height="22.3"><rect class="G" width="100%" height="100%"/><rect class="u" y="23.4" width="100%" height="2.2"/><text x="50%" y="16.3">19623</text></svg>
<svg class="b" x="449.3" y="14.5" width="30.7" height="22.3"><rect class="G" width="100%" height="100%"/><rect class="u" y="23.4" width="100%" height="2.2"/><text x="50%" y="16.3">19626</text></svg>
<svg class="b" x="486.7" y="14.5" width="56.6" height="22.3"><rect class="G" width="100%" height="100%"/><rect class="u" y="23.4" width="100%" height="2.2"/><text x="50%" y="16.3">18229</text></svg>
<svg class="b" x="550" y="14.5" width="56.7" height="22.3"><rect class="G" width="100%" height="100%"/><rect class="u" y="23.4" width="100%" height="2.2"/><text x="50%" y="16.3">18236</text></svg>
<svg class="b" x="613.3" y="14.5" width="30" height="22.3"><rect class="G" width="100%" height="100%"/><rect class="u" y="23.4" width="100%" height="2.2"/><text x="50%" y="16.3">19639</text></svg>
<svg class="b" x="660" y="14.5" width="30" height="22.3"><rect class="G" width="100%" height="100%"/><rect class="u" y="23.4" width="100%" height="2.2"/><text x="50%" y="16.3">19642</text></svg>
<svg class="b" x="697.3" y="14.5" width="57.7" height="22.3"><rect class="G" width="100%" height="100%"/><rect class="u" y="23.4" width="100%" height="2.2"/><text x="50%" y="16.3">18245</text></svg>
<svg class="b" x="762.3" y="14.5" width="56.7" height="22.3"><rect class="G" width="100%" height="100%"/><rect class="u" y="23.4" width="100%" height="2.2"/><text x="50%" y="16.3">18252</text></svg>
<svg class="b" x="830" y="14.5" width="56.7" height="22.3"><rect class="G" width="100%" height="100%"/><rect class="u" y="23.4" width="100%" height="2.2"/><text x="50%" y="16.3">18255</text></svg>
<svg class="b" x="894" y="14.5" width="56.7" height="22.3"><rect class="G" width="100%" height="100%"/><rect class="u" y="23.4" width="100%" height="2.2"/><text x="50%" y="16.3">18262</text></svg>
<svg class="b" x="961.7" y="14.5" width="57.3" height="22.3"><rect class="G" width="100%" height="100%"/><rect class="u" y="23.4" width="100%" height="2.2"/><text x="50%" y="16.3">18265</text></svg>
<svg class="b" x="1025.7" y="14.5" width="56.6" height="22.3"><rect class="G" width="100%" height="100%"/><rect class="u" y="23.4" width="100%" height="2.2"/><text x="50%" y="16.3">18272</text></svg>
<svg class="b" x="1093.3" y="14.5" width="59.4" height="22.3"><rect class="G" width="100%" height="100%"/><rect class="u" y="23.4" width="100%" height="2.2"/><text x="50%" y="16.3">18275</text></svg>
<svg class="b" x="1157.3" y="14.5" width="57" height="22.3"><rect class="G" width="100%" height="100%"/><rect class="u" y="23.4" width="100%" height="2.2"/><text x="50%" y="16.3">18282</text></svg>
<svg class="b" x="1225" y="14.5" width="61" height="22.3"><rect class="G" width="100%" height="100%"/><rect class="u" y="23.4" width="100%" height="2.2"/><text x="50%" y="16.3">18285</text></svg>
<text class="l" x="327.2" y="13.5">ZB</text><text class="l" x="399.3" y="13.5">ZFH</text><text class="l" x="440.8" y="13.5">HERL</text><text class="l" x="483" y="13.5">ZFH</text><text class="l" x="546.7" y="13.5">ZB</text><text class="l" x="610.3" y="13.5">ZFH</text><text class="l" x="651.7" y="13.5">HERL</text><text class="l" x="694" y="13.5">ZFH</text><text class="l" x="758.7" y="13.5">ZB</text><text class="l" x="824.7" y="13.5">ZFH</text><text class="l" x="890.3" y="13.5">ZB</text><text class="l" x="956" y="13.5">ZFH</text><text class="l" x="1022.2" y="13.5">ZB</text><text class="l" x="1088" y="13.5">ZFH</text><text class="l" x="1155.3" y="13.5">ZB</text><text class="l" x="1220" y="13.5">ZFH</text><text class="l" x="1294.7" y="13.5">ZB</text>
</g>
</g>

<g id="row-15" transform="translate(0,758.5)">
<rect class="fr" x="58.7" y="0" width="1372.2" height="44.5"/><line class="fb" x1="58.7" y1="44.5" x2="1430.9" y2="44.5"/>
<text class="rn" x="8.5" y="28.3">15</text>
<g clip-path="url(#cp)">
<svg class="b" x="388.3" y="14.5" width="60.7" height="22.3"><rect class="G" width="100%" height="100%"/><rect class="u" y="23.4" width="100%" height="2.2"/><text x="50%" y="16.3">18224</text></svg>
<svg class="b" x="455.7" y="14.5" width="29.3" height="22.3"><rect class="G" width="100%" height="100%"/><rect class="u" y="23.4" width="100%" height="2.2"/><text x="50%" y="16.3">19627</text></svg>
<svg class="b" x="502.3" y="14.5" width="31" height="22.3"><rect class="G" width="100%" height="100%"/><rect class="u" y="23.4" width="100%" height="2.2"/><text x="50%" y="16.3">19630</text></svg>
<svg class="b" x="534.3" y="14.5" width="30" height="22.3"><rect class="G" width="100%" height="100%"/><rect class="u" y="23.4" width="100%" height="2.2"/><text x="50%" y="16.3">19633</text></svg>
<svg class="b" x="581" y="14.5" width="30.7" height="22.3"><rect class="G" width="100%" height="100%"/><rect class="u" y="23.4" width="100%" height="2.2"/><text x="50%" y="16.3">19636</text></svg>
<svg class="b" x="617.7" y="14.5" width="57.3" height="22.3"><rect class="G" width="100%" height="100%"/><rect class="u" y="23.4" width="100%" height="2.2"/><text x="50%" y="16.3">18239</text></svg>
<svg class="b" x="682.3" y="14.5" width="57.7" height="22.3"><rect class="G" width="100%" height="100%"/><rect class="u" y="23.4" width="100%" height="2.2"/><text x="50%" y="16.3">18246</text></svg>
<svg class="b" x="751" y="14.5" width="56.7" height="22.3"><rect class="G" width="100%" height="100%"/><rect class="u" y="23.4" width="100%" height="2.2"/><text x="50%" y="16.3">18249</text></svg>
<svg class="b" x="815" y="14.5" width="57.3" height="22.3"><rect class="G" width="100%" height="100%"/><rect class="u" y="23.4" width="100%" height="2.2"/><text x="50%" y="16.3">18256</text></svg>
<svg class="b" x="878.3" y="14.5" width="29.4" height="22.3"><rect class="G" width="100%" height="100%"/><rect class="u" y="23.4" width="100%" height="2.2"/><text x="50%" y="16.3">19659</text></svg>
<svg class="b" x="925" y="14.5" width="30.7" height="22.3"><rect class="G" width="100%" height="100%"/><rect class="u" y="23.4" width="100%" height="2.2"/><text x="50%" y="16.3">19662</text></svg>
<svg class="b" x="957.3" y="14.5" width="30" height="22.3"><rect class="G" width="100%" height="100%"/><rect class="u" y="23.4" width="100%" height="2.2"/><text x="50%" y="16.3">19665</text></svg>
<svg class="b" x="1004" y="14.5" width="30" height="22.3"><rect class="G" width="100%" height="100%"/><rect class="u" y="23.4" width="100%" height="2.2"/><text x="50%" y="16.3">19668</text></svg>
<svg class="b" x="1041" y="14.5" width="56.7" height="22.3"><rect class="G" width="100%" height="100%"/><rect class="u" y="23.4" width="100%" height="2.2"/><text x="50%" y="16.3">18271</text></svg>
<svg class="b" x="1105" y="14.5" width="56.7" height="22.3"><rect class="G" width="100%" height="100%"/><rect class="u" y="23.4" width="100%" height="2.2"/><text x="50%" y="16.3">18278</text></svg>
<svg class="b" x="1167.7" y="14.5" width="30" height="22.3"><rect class="G" width="100%" height="100%"/><rect class="u" y="23.4" width="100%" height="2.2"/><text x="50%" y="16.3">19681</text></svg>
<svg class="b" x="1214.3" y="14.5" width="30.7" height="22.3"><rect class="G" width="100%" height="100%"/><rect class="u" y="23.4" width="100%" height="2.2"/><text x="50%" y="16.3">19684</text></svg>
<svg class="b" x="1247.3" y="14.5" width="33.4" height="22.3"><rect class="G" width="100%" height="100%"/><rect class="u" y="23.4" width="100%" height="2.2"/><text x="50%" y="16.3">19687</text></svg>
<svg class="b" x="1290" y="14.5" width="35" height="22.3"><rect class="G" width="100%" height="100%"/><rect class="u" y="23.4" width="100%" height="2.2"/><text x="50%" y="16.3">19690</text></svg>
<text class="l" x="380.3" y="13.5">ZB</text><text class="l" x="452.3" y="13.5">ZFH</text><text class="l" x="493.8" y="13.5">HERL</text><text class="l" x="533.7" y="13.5">ZFH</text><text class="l" x="572.5" y="13.5">HERL</text><text class="l" x="614.7" y="13.5">ZFH</text><text class="l" x="678.7" y="13.5">ZB</text><text class="l" x="745.7" y="13.5">ZFH</text><text class="l" x="811.3" y="13.5">ZB</text><text class="l" x="875" y="13.5">ZFH</text><text class="l" x="916.5" y="13.5">HERL</text><text class="l" x="956.3" y="13.5">ZFH</text><text class="l" x="995.2" y="13.5">HERL</text><text class="l" x="1037.3" y="13.5">ZFH</text><text class="l" x="1101.3" y="13.5">ZB</text><text class="l" x="1165" y="13.5">ZFH</text><text class="l" x="1206.7" y="13.5">HERL</text><text class="l" x="1246" y="13.5">ZFH</text><text class="l" x="1285.5" y="13.5">ML</text><text class="l" x="1336.7" y="13.5">ZFH</text>
</g>
</g>

<g id="row-16" transform="translate(0,810.25)">
<rect class="fr" x="58.7" y="0" width="1372.2" height="44.5"/><line class="fb" x1="58.7" y1="44.5" x2="1430.9" y2="44.5"/>
<text class="rn" x="8.5" y="28.3">16</text>
<g clip-path="url(#cp)">
<svg class="b" x="376" y="14.5" width="30" height="22.3"><rect class="B" width="100%" height="100%"/><text x="50%" y="16.3">19621</text></svg>
<svg class="b" x="422.7" y="14.5" width="30.6" height="22.3"><rect class="B" width="100%" height="100%"/><text x="50%" y="16.3">19624</text></svg>
<svg class="b" x="455" y="14.5" width="30" height="22.3"><rect class="B" width="100%" height="100%"/><text x="50%" y="16.3">19627</text></svg>
<svg class="b" x="950.7" y="14.5" width="31" height="22.3"><rect class="B" width="100%" height="100%"/><text x="50%" y="16.3">19664</text></svg>
<svg class="b" x="988.3" y="14.5" width="56.7" height="22.3"><rect class="B" width="100%" height="100%"/><text x="50%" y="16.3">18267</text></svg>
<text class="l" x="364" y="13.5">ZFH</text><text class="l" x="414.5" y="13.5">HERL</text><text class="l" x="454" y="13.5">ZFH</text><text class="l" x="501.8" y="13.5">HERL</text><text class="l" x="934.8" y="13.5">HERL</text><text class="l" x="984.3" y="13.5">ZFH</text><text class="l" x="1053.3" y="13.5">ZB</text>
</g>
</g>

<g id="row-17" transform="translate(0,862)">
<rect class="fr" x="58.7" y="0" width="1372.2" height="44.5"/><line class="fb" x1="58.7" y1="44.5" x2="1430.9" y2="44.5"/>
<text class="rn" x="8.5" y="28.3">17</text>
<g clip-path="url(#cp)">
<svg class="b" x="418.3" y="14.5" width="57.4" height="22.3"><rect class="B" width="100%" height="100%"/><text x="50%" y="16.3">18226</text></svg>
<svg class="b" x="909" y="14.5" width="56.7" height="22.3"><rect class="B" width="100%" height="100%"/><text x="50%" y="16.3">18261</text></svg>
<svg class="b" x="973.3" y="14.5" width="56.7" height="22.3"><rect class="B" width="100%" height="100%"/><text x="50%" y="16.3">18268</text></svg>
<svg class="b" x="1041" y="14.5" width="56.7" height="22.3"><rect class="B" width="100%" height="100%"/><text x="50%" y="16.3">18271</text></svg>
<text class="l" x="410.5" y="13.5">ZB</text><text class="l" x="487.7" y="13.5">ZFH</text><text class="l" x="896.7" y="13.5">ZFH</text><text class="l" x="969.5" y="13.5">ZB</text><text class="l" x="1035" y="13.5">ZFH</text><text class="l" x="1106.2" y="13.5">ZB</text>
</g>
</g>

<g id="row-18" transform="translate(0,913.75)">
<rect class="fr" x="58.7" y="0" width="1372.2" height="44.5"/><line class="fb" x1="58.7" y1="44.5" x2="1430.9" y2="44.5"/>
<text class="rn" x="8.5" y="28.3">18</text>
<g clip-path="url(#cp)">
<svg class="b" x="275" y="14.5" width="69" height="22.3"><rect class="G" width="100%" height="100%"/><rect class="u" y="23.4" width="100%" height="2.2"/><text x="50%" y="16.3">19016</text></svg>
<rect class="K" x="345.7" y="14.5" width="13.6" height="22.3"/>
<svg class="b" x="362.3" y="14.5" width="17.7" height="22.3"><rect class="G" width="100%" height="100%"/><rect class="u" y="23.4" width="100%" height="2.2"/><text x="50%" y="16.3">19619</text></svg>
<svg class="b" x="396.7" y="14.5" width="30.6" height="22.3"><rect class="G" width="100%" height="100%"/><rect class="u" y="23.4" width="100%" height="2.2"/><text x="50%" y="16.3">19622</text></svg>
<svg class="b" x="429" y="14.5" width="30" height="22.3"><rect class="G" width="100%" height="100%"/><rect class="u" y="23.4" width="100%" height="2.2"/><text x="50%" y="16.3">19625</text></svg>
<svg class="b" x="475.7" y="14.5" width="31" height="22.3"><rect class="G" width="100%" height="100%"/><rect class="u" y="23.4" width="100%" height="2.2"/><text x="50%" y="16.3">19628</text></svg>
<svg class="b" x="512.7" y="14.5" width="56.6" height="22.3"><rect class="G" width="100%" height="100%"/><rect class="u" y="23.4" width="100%" height="2.2"/><text x="50%" y="16.3">18231</text></svg>
<svg class="b" x="576.7" y="14.5" width="56.6" height="22.3"><rect class="G" width="100%" height="100%"/><rect class="u" y="23.4" width="100%" height="2.2"/><text x="50%" y="16.3">18238</text></svg>
<svg class="b" x="644.3" y="14.5" width="57.4" height="22.3"><rect class="G" width="100%" height="100%"/><rect class="u" y="23.4" width="100%" height="2.2"/><text x="50%" y="16.3">18241</text></svg>
<svg class="b" x="708.3" y="14.5" width="57.7" height="22.3"><rect class="G" width="100%" height="100%"/><rect class="u" y="23.4" width="100%" height="2.2"/><text x="50%" y="16.3">18248</text></svg>
<svg class="b" x="777.3" y="14.5" width="57" height="22.3"><rect class="G" width="100%" height="100%"/><rect class="u" y="23.4" width="100%" height="2.2"/><text x="50%" y="16.3">18251</text></svg>
<svg class="b" x="841" y="14.5" width="57.3" height="22.3"><rect class="G" width="100%" height="100%"/><rect class="u" y="23.4" width="100%" height="2.2"/><text x="50%" y="16.3">18258</text></svg>
<svg class="b" x="904.3" y="14.5" width="30" height="22.3"><rect class="G" width="100%" height="100%"/><rect class="u" y="23.4" width="100%" height="2.2"/><text x="50%" y="16.3">19661</text></svg>
<svg class="b" x="951" y="14.5" width="30.7" height="22.3"><rect class="G" width="100%" height="100%"/><rect class="u" y="23.4" width="100%" height="2.2"/><text x="50%" y="16.3">19664</text></svg>
<svg class="b" x="983.3" y="14.5" width="30" height="22.3"><rect class="G" width="100%" height="100%"/><rect class="u" y="23.4" width="100%" height="2.2"/><text x="50%" y="16.3">19667</text></svg>
<svg class="b" x="1030" y="14.5" width="31" height="22.3"><rect class="G" width="100%" height="100%"/><rect class="u" y="23.4" width="100%" height="2.2"/><text x="50%" y="16.3">19670</text></svg>
<svg class="b" x="1062.7" y="14.5" width="29.6" height="22.3"><rect class="G" width="100%" height="100%"/><rect class="u" y="23.4" width="100%" height="2.2"/><text x="50%" y="16.3">19673</text></svg>
<svg class="b" x="1109.3" y="14.5" width="30.7" height="22.3"><rect class="G" width="100%" height="100%"/><rect class="u" y="23.4" width="100%" height="2.2"/><text x="50%" y="16.3">19676</text></svg>
<svg class="b" x="1141.7" y="14.5" width="30" height="22.3"><rect class="G" width="100%" height="100%"/><rect class="u" y="23.4" width="100%" height="2.2"/><text x="50%" y="16.3">19679</text></svg>
<svg class="b" x="1188.3" y="14.5" width="31" height="22.3"><rect class="G" width="100%" height="100%"/><rect class="u" y="23.4" width="100%" height="2.2"/><text x="50%" y="16.3">19682</text></svg>
<svg class="b" x="1220.7" y="14.5" width="33.3" height="22.3"><rect class="G" width="100%" height="100%"/><rect class="u" y="23.4" width="100%" height="2.2"/><text x="50%" y="16.3">19685</text></svg>
<svg class="b" x="1264" y="14.5" width="34.3" height="22.3"><rect class="G" width="100%" height="100%"/><rect class="u" y="23.4" width="100%" height="2.2"/><text x="50%" y="16.3">19688</text></svg>
<svg class="b" x="1304.3" y="14.5" width="61.4" height="22.3"><rect class="G" width="100%" height="100%"/><rect class="u" y="23.4" width="100%" height="2.2"/><text x="50%" y="16.3">18291</text></svg>
<text class="l" x="267" y="13.5">ZB</text><text class="l" x="344.7" y="13.5">ZUE</text><text class="l" x="361.3" y="13.5">ZMUS</text><text class="l" x="387.8" y="13.5">HERL</text><text class="l" x="428.3" y="13.5">ZFH</text><text class="l" x="467.5" y="13.5">HERL</text><text class="l" x="509" y="13.5">ZFH</text><text class="l" x="573" y="13.5">ZB</text><text class="l" x="638.3" y="13.5">ZFH</text><text class="l" x="704.7" y="13.5">ZB</text><text class="l" x="771.3" y="13.5">ZFH</text><text class="l" x="838" y="13.5">ZB</text><text class="l" x="901.3" y="13.5">ZFH</text><text class="l" x="942.8" y="13.5">HERL</text><text class="l" x="982.3" y="13.5">ZFH</text><text class="l" x="1022.2" y="13.5">HERL</text><text class="l" x="1061.7" y="13.5">ZFH</text><text class="l" x="1101.2" y="13.5">HERL</text><text class="l" x="1141" y="13.5">ZFH</text><text class="l" x="1180.2" y="13.5">HERL</text><text class="l" x="1220" y="13.5">ZFH</text><text class="l" x="1259.5" y="13.5">ML</text><text class="l" x="1301.3" y="13.5">ZFH</text><text class="l" x="1373.7" y="13.5">ZB</text>
</g>
</g>

<g id="row-19" transform="translate(0,965.5)">
<rect class="fr" x="58.7" y="0" width="1372.2" height="44.5"/><line class="fb" x1="58.7" y1="44.5" x2="1430.9" y2="44.5"/>
<text class="rn" x="8.5" y="28.3">19</text>
<g clip-path="url(#cp)">
<svg class="b" x="365.7" y="14.5" width="57" height="22.3"><rect class="B" width="100%" height="100%"/><text x="50%" y="16.3">18222</text></svg>
<svg class="b" x="433.3" y="14.5" width="56.7" height="22.3"><rect class="B" width="100%" height="100%"/><text x="50%" y="16.3">18225</text></svg>
<svg class="b" x="497.3" y="14.5" width="57" height="22.3"><rect class="B" width="100%" height="100%"/><text x="50%" y="16.3">18232</text></svg>
<svg class="b" x="560.7" y="14.5" width="29.3" height="22.3"><rect class="B" width="100%" height="100%"/><text x="50%" y="16.3">19635</text></svg>
<svg class="b" x="872.3" y="14.5" width="31" height="22.3"><rect class="B" width="100%" height="100%"/><text x="50%" y="16.3">19658</text></svg>
<svg class="b" x="904.3" y="14.5" width="30" height="22.3"><rect class="B" width="100%" height="100%"/><text x="50%" y="16.3">19661</text></svg>
<rect class="K" x="936" y="14.5" width="29" height="22.3"/>
<text class="l" x="357.8" y="13.5">ZB</text><text class="l" x="427.7" y="13.5">ZFH</text><text class="l" x="493.8" y="13.5">ZB</text><text class="l" x="557.7" y="13.5">ZFH</text><text class="l" x="607.5" y="13.5">HERL</text><text class="l" x="855.8" y="13.5">HERL</text><text class="l" x="904" y="13.5">ZFH</text><text class="l" x="935.2" y="13.5">HERL</text><text class="l" x="975.7" y="13.5">RW</text>
</g>
</g>

<rect id="highlight" x="570.5" y="48.5" width="263" height="25" fill="none" stroke="#e30000" stroke-width="4"/>
</svg>
